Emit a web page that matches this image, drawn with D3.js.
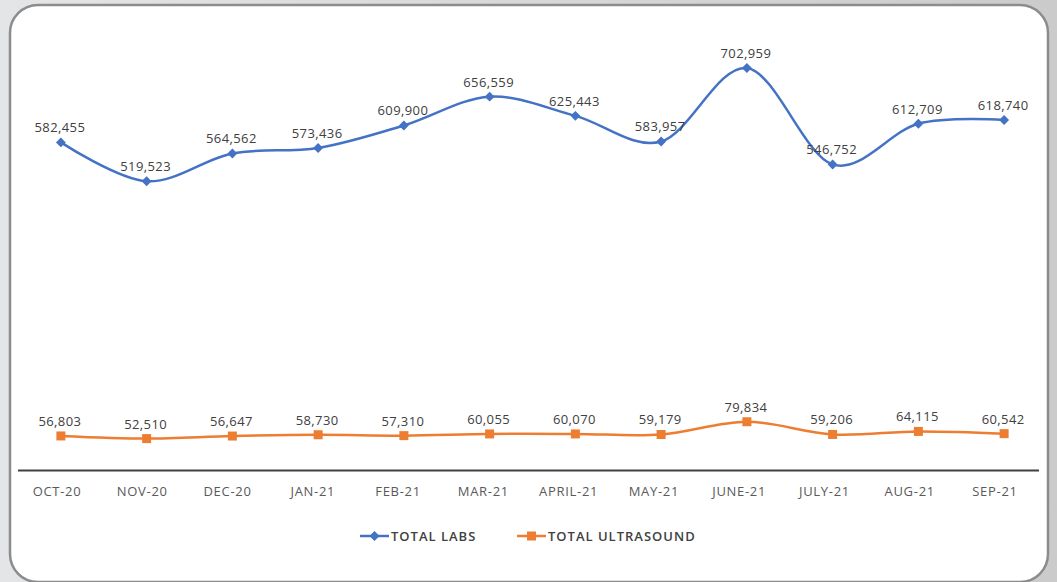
<!DOCTYPE html>
<html>
<head>
<meta charset="utf-8">
<script src="https://cdn.jsdelivr.net/npm/d3@7"></script>
<style>
  html, body { margin: 0; padding: 0; background: #e2e3e5; }
  svg { display: block; }
</style>
</head>
<body>
<div id="chart"></div>
<script>
// Plot constants
const WIDTH = 1057;
const HEIGHT = 582;

// Data
const months = ["OCT-20", "NOV-20", "DEC-20", "JAN-21", "FEB-21", "MAR-21",
  "APRIL-21", "MAY-21", "JUNE-21", "JULY-21", "AUG-21", "SEP-21"];
const totalLabs = [582455, 519523, 564562, 573436, 609900, 656559,
  625443, 583957, 702959, 546752, 612709, 618740];
const totalUltrasound = [56803, 52510, 56647, 58730, 57310, 60055,
  60070, 59179, 79834, 59206, 64115, 60542];
const seriesNames = ["TOTAL LABS", "TOTAL ULTRASOUND"];

const BLUE = "#4472C4";
const ORANGE = "#ED7D31";

const svg = d3.select("#chart")
  .append("svg")
  .attr("width", WIDTH)
  .attr("height", HEIGHT);

// Background and card
const bg = svg.append("defs").append("linearGradient")
  .attr("id", "bg").attr("x1", "0%").attr("x2", "100%");
bg.append("stop").attr("offset", "0%").attr("stop-color", "#e4e5e7");
bg.append("stop").attr("offset", "100%").attr("stop-color", "#cbcbcb");
svg.append("rect").attr("width", WIDTH).attr("height", HEIGHT).attr("fill", "url(#bg)");

svg.append("rect")
  .attr("x", 10).attr("y", 5)
  .attr("width", 1038).attr("height", 577)
  .attr("rx", 28).attr("ry", 28)
  .attr("fill", "#ffffff")
  .attr("stroke", "#8c8c8c")
  .attr("stroke-width", 2.5);

// Scales
const x = d3.scaleBand().domain(months).range([18, 1047]);
const xc = d => x(d) + x.bandwidth() / 2;
const xLabel = d3.scalePoint().domain(months).range([57, 995]);

const yLabs = d3.scaleLinear().domain([50000, 750000]).range([471, 39]);
const yUltra = d3.scaleLinear().domain([0, 700000]).range([471, 39]);

// Category axis
const g = svg.append("g");
g.append("line")
  .attr("x1", 18).attr("x2", 1039)
  .attr("y1", 470.5).attr("y2", 470.5)
  .attr("stroke", "#404040")
  .attr("stroke-width", 2);

g.selectAll(".xlab")
  .data(months)
  .enter().append("text")
  .attr("class", "xlab")
  .attr("x", d => xLabel(d))
  .attr("y", 496)
  .attr("text-anchor", "middle")
  .attr("font-family", "Open Sans")
  .attr("font-size", "13px")
  .attr("letter-spacing", "0.7px")
  .attr("fill", "#595959")
  .text(d => d);

const line = yScale => d3.line()
  .x((d, i) => xc(months[i]))
  .y(d => yScale(d))
  .curve(d3.curveCardinal.tension(0));

const fmt = d3.format(",");

function drawSeries(values, yScale, color, shape) {
  const s = svg.append("g");
  s.append("path")
    .datum(values)
    .attr("fill", "none")
    .attr("stroke", color)
    .attr("stroke-width", 2.5)
    .attr("d", line(yScale));

  s.selectAll(".marker")
    .data(values)
    .enter().append("path")
    .attr("class", "marker")
    .attr("transform", (d, i) => `translate(${xc(months[i])},${yScale(d)})` + (shape === "diamond" ? " rotate(45)" : ""))
    .attr("d", shape === "diamond" ? "M-3.5,-3.5h7v7h-7z" : "M-4.5,-4.5h9v9h-9z")
    .attr("fill", color);

  s.selectAll(".dlabel")
    .data(values)
    .enter().append("text")
    .attr("class", "dlabel")
    .attr("x", (d, i) => xc(months[i]) - 1)
    .attr("y", d => yScale(d) - 10)
    .attr("text-anchor", "middle")
    .attr("font-family", "Open Sans")
    .attr("font-size", "13px")
    .attr("letter-spacing", "0.4px")
    .attr("fill", "#404040")
    .text(d => fmt(d));
}

drawSeries(totalLabs, yLabs, BLUE, "diamond");
drawSeries(totalUltrasound, yUltra, ORANGE, "square");

// Legend
const legendItems = [
  { name: seriesNames[0], color: BLUE, shape: "diamond", x: 360 },
  { name: seriesNames[1], color: ORANGE, shape: "square", x: 517 }
];
const legend = svg.append("g");
legendItems.forEach(item => {
  const lg = legend.append("g").attr("transform", `translate(${item.x},536)`);
  lg.append("line").attr("x1", 0).attr("x2", 29).attr("y1", 0).attr("y2", 0)
    .attr("stroke", item.color).attr("stroke-width", 2.5);
  lg.append("path")
    .attr("transform", item.shape === "diamond" ? "translate(14.5,0) rotate(45)" : "translate(14.5,0)")
    .attr("d", item.shape === "diamond" ? "M-3.5,-3.5h7v7h-7z" : "M-4.5,-4.5h9v9h-9z")
    .attr("fill", item.color);
  lg.append("text")
    .attr("x", 31).attr("y", 5)
    .attr("font-family", "Open Sans")
    .attr("font-size", "13px")
    .attr("font-weight", 600)
    .attr("letter-spacing", "1px")
    .attr("fill", "#404040")
    .text(item.name);
});
</script>
</body>
</html>
